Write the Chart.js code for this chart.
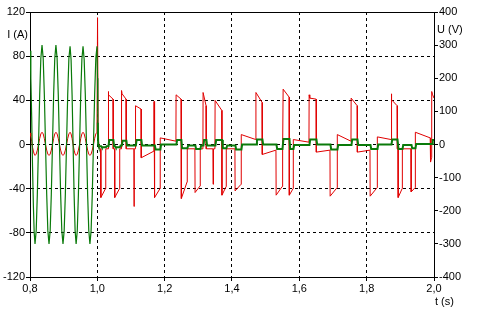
<!DOCTYPE html>
<html>
<head>
<meta charset="utf-8">
<script src="https://cdn.jsdelivr.net/npm/chart.js@4.4.1/dist/chart.umd.min.js"></script>
<style>
  html, body { margin: 0; padding: 0; background: #fff; }
  #wrap { width: 481px; height: 314px; }
</style>
</head>
<body>
<div id="wrap"><canvas id="c" width="481" height="314"></canvas></div>
<script>
/* ── data ──────────────────────────────────────────────────── */
var xTicks  = [0.8, 1.0, 1.2, 1.4, 1.6, 1.8, 2.0];
var xLabels = ['0,8', '1,0', '1,2', '1,4', '1,6', '1,8', '2,0'];
var iTicks  = [-120, -80, -40, 0, 40, 80, 120];
var uTicks  = [-400, -300, -200, -100, 0, 100, 200, 300, 400];

// current I (A), green, left axis
var iT = [0.800, 0.8025, 0.805, 0.8075, 0.810, 0.8125, 0.8149, 0.8184, 0.8218, 0.8253, 0.8288, 0.8322,
  0.8357, 0.8392, 0.8426, 0.8461, 0.8496, 0.8530, 0.8565, 0.8599, 0.8633, 0.8668, 0.8702, 0.8736,
  0.877, 0.8805, 0.884, 0.8875, 0.891, 0.8945, 0.898, 0.9015, 0.905, 0.9085, 0.912, 0.9155,
  0.919, 0.922, 0.925, 0.928, 0.931, 0.934, 0.937, 0.9404, 0.9438, 0.9473, 0.9507, 0.9541,
  0.9575, 0.9609, 0.9643, 0.9678, 0.9712, 0.9746, 0.978, 0.9815, 0.985, 0.9885, 0.992, 0.9955,
  0.999, 1.0005, 1.0015, 1.0025,
  1.004, 1.0115, 1.0135, 1.0255, 1.0275, 1.0333, 1.0353, 1.0477, 1.0497, 1.0527, 1.0547, 1.0670,
  1.0690, 1.0729, 1.0749, 1.0863, 1.0883, 1.1145, 1.1165, 1.1309, 1.1329, 1.1710, 1.1730, 1.1873,
  1.1893, 1.2349, 1.2369, 1.2497, 1.2517, 1.2676, 1.2696, 1.2913, 1.2933, 1.3062, 1.3082, 1.3151,
  1.3171, 1.3240, 1.3260, 1.3508, 1.3528, 1.3707, 1.3727, 1.3835, 1.3855, 1.4102, 1.4122, 1.4280,
  1.4300, 1.4721, 1.4741, 1.4904, 1.4924, 1.5321, 1.5341, 1.5499, 1.5529, 1.5707, 1.5727, 1.5826,
  1.5846, 1.6301, 1.6321, 1.6509, 1.6529, 1.6925, 1.6945, 1.7133, 1.7153, 1.7549, 1.7569, 1.7728,
  1.7748, 1.8114, 1.8134, 1.8322, 1.8342, 1.8738, 1.8758, 1.8916, 1.8946, 1.9065, 1.9085, 1.9332,
  1.9352, 1.9451, 1.9471, 1.9942, 1.9962, 2.0];
var iA = [85, 60, 25, -20, -55, -80, -90, -78, -45, 0, 45, 78,
  90, 78, 45, 0, -45, -78, -90, -78, -45, 0, 45, 78,
  90, 78, 45, 0, -45, -78, -90, -78, -45, 0, 45, 78,
  89, 77, 45, 0, -45, -78, -90, -78, -45, 0, 45, 77,
  89, 77, 45, 0, -45, -78, -90, -78, -45, 0, 45, 78,
  89, 60, 20, 0,
  -1.5, -1.5, -2.5, -2.5, -1.5, -1.5, 4, 4, -1.5, -1.5, -2.5, -2.5,
  -1, -1, 3.5, 3.5, -1, -1, 4, 4, -1, -1, -4.5, -4.5,
  0, 0, 4, 4, -3.5, -3.5, -1, -1, -4, -4, -1, -1,
  4, 4, -1, -1, 4, 4, -3.5, -3.5, -1, -1, -4.5, -4.5,
  0, 0, 4.5, 4.5, 0, 0, -4, -4, 5, 5, -4, -4,
  -0.5, -0.5, 4.5, 4.5, 0, 0, -4.5, -4.5, -0.5, -0.5, 4.5, 4.5,
  -0.5, -0.5, -4, -4, 0, 0, 4.5, 4.5, -4, -4, -0.5, -0.5,
  -3.5, -3.5, 0.5, 0.5, 4, 4];

// voltage U (V), red, right axis
var uT = [0.800, 0.8025, 0.805, 0.8075, 0.810, 0.8125, 0.8149, 0.8184, 0.8218, 0.8253, 0.8288, 0.8322,
  0.8357, 0.8392, 0.8426, 0.8461, 0.8496, 0.8530, 0.8565, 0.8599, 0.8633, 0.8668, 0.8702, 0.8736,
  0.877, 0.8805, 0.884, 0.8875, 0.891, 0.8945, 0.898, 0.9015, 0.905, 0.9085, 0.912, 0.9155,
  0.919, 0.922, 0.925, 0.928, 0.931, 0.934, 0.937, 0.9404, 0.9438, 0.9473, 0.9507, 0.9541,
  0.9575, 0.9609, 0.9643, 0.9678, 0.9712, 0.9746, 0.978, 0.9815, 0.985, 0.9885, 0.992, 0.9955,
  0.999, 1.0006, 1.0025, 1.006, 1.010, 1.0105, 1.0244, 1.0250, 1.0318, 1.0323, 1.0340, 1.0467,
  1.0472, 1.0512, 1.0517, 1.0660, 1.0665, 1.0714, 1.0719, 1.0735, 1.0853, 1.0858, 1.1086, 1.1091,
  1.1096, 1.1130, 1.1135, 1.1299, 1.1304, 1.1680, 1.1685, 1.1700, 1.1863, 1.1868, 1.2334, 1.2339,
  1.2487, 1.2495, 1.2666, 1.2671, 1.2898, 1.2903, 1.3052, 1.3057, 1.3136, 1.3141, 1.3230, 1.3235,
  1.3433, 1.3438, 1.3450, 1.3493, 1.3498, 1.3697, 1.3702, 1.3825, 1.3830, 1.4087, 1.4092, 1.4270,
  1.4275, 1.4706, 1.4711, 1.4894, 1.4899, 1.5306, 1.5311, 1.5489, 1.5494, 1.5514, 1.5519, 1.5697,
  1.5702, 1.5816, 1.5821, 1.6286, 1.6291, 1.6310, 1.6499, 1.6504, 1.6910, 1.6915, 1.7123, 1.7128,
  1.7534, 1.7539, 1.7718, 1.7723, 1.8099, 1.8104, 1.8312, 1.8317, 1.8723, 1.8728, 1.8750, 1.8906,
  1.8911, 1.8931, 1.8936, 1.9055, 1.9060, 1.9317, 1.9322, 1.9441, 1.9446, 1.9887, 1.9897, 1.9927,
  1.9932, 1.9960, 2.0];
var uV = [35, 25, 10, -8, -20, -29, -33, -29, -17, 0, 18, 32,
  37, 32, 18, 0, -17, -29, -33, -29, -17, 0, 18, 32,
  37, 32, 18, 0, -17, -29, -33, -29, -17, 0, 18, 32,
  37, 32, 18, 0, -17, -29, -33, -29, -17, 0, 18, 32,
  37, 32, 18, 0, -17, -29, -33, -29, -17, 0, 18, 32,
  37, 383, 20, -13, -13, -160, -133, -13, -13, 160, 150, 137,
  -13, -13, -160, -133, -13, -13, 163, 153, 137, -13, -13, -187,
  -13, -13, 117, 107, -40, -20, 130, -160, -133, 20, 10, 150,
  137, -163, -113, -13, -13, -145, -125, -13, -13, 157, 117, -13,
  -13, -120, -13, -13, 133, 103, -153, -127, -13, -13, -140, -120,
  30, 15, 157, 127, -30, -17, -153, -127, -13, -13, 167, 143,
  -153, -133, 15, 7, 150, 140, 137, -23, -17, -156, -130, 30,
  10, 140, 117, -23, -17, -156, -130, 23, 15, 153, 135, 117,
  -13, -13, -160, -133, -13, -13, -143, -130, 37, 20, -53, -40,
  160, 150, 140];

/* ── helpers ────────────────────────────────────────────────── */
var FONT = { family: "'Liberation Sans', Arial, sans-serif", size: 11 };

function pairs(xs, ys) {
  return xs.map(function(x, k) { return { x: x, y: ys[k] }; });
}

function edgeClear(min, max) {
  return function(c) {
    if (!c.tick) return '#000';
    var v = c.tick.value;
    return (Math.abs(v - min) < 1e-9 || Math.abs(v - max) < 1e-9) ? 'rgba(0,0,0,0)' : '#000';
  };
}

var axisTitles = {
  id: 'axisTitles',
  afterDraw: function(chart) {
    var ctx = chart.ctx, a = chart.chartArea;
    ctx.save();
    // top frame line
    ctx.strokeStyle = '#000';
    ctx.lineWidth = 1;
    ctx.beginPath();
    ctx.moveTo(a.left, Math.round(a.top) + 0.5);
    ctx.lineTo(a.right, Math.round(a.top) + 0.5);
    ctx.stroke();

    ctx.fillStyle = '#000';
    ctx.font = FONT.size + 'px ' + FONT.family;
    ctx.textBaseline = 'middle';
    ctx.textAlign = 'right';
    ctx.fillText('I (A)', 28, 35);
    ctx.textAlign = 'left';
    ctx.fillText('U (V)', 437, 30);
    ctx.fillText('t (s)', 435, 302);
    ctx.restore();
  }
};

/* ── chart ──────────────────────────────────────────────────── */
new Chart(document.getElementById('c'), {
  type: 'line',
  data: {
    datasets: [
      {
        label: 'I', data: pairs(iT, iA), yAxisID: 'yI', order: 0,
        borderColor: '#0a7a0a', borderWidth: 1.2,
        segment: { borderWidth: function(c) { return c.p0.parsed.x >= 1.001 ? 2 : 1.2; } }
      },
      {
        label: 'U', data: pairs(uT, uV), yAxisID: 'yU', order: 1,
        borderColor: '#e00000', borderWidth: 1
      }
    ]
  },
  options: {
    responsive: false,
    animation: false,
    devicePixelRatio: 1,
    parsing: true,
    elements: { point: { radius: 0 }, line: { tension: 0 } },
    layout: { padding: { top: 12, left: 0, right: 0, bottom: 0 } },
    plugins: { legend: { display: false }, tooltip: { enabled: false } },
    scales: {
      x: {
        type: 'linear', min: 0.8, max: 2.0,
        afterBuildTicks: function(s) { s.ticks = xTicks.map(function(v) { return { value: v }; }); },
        afterFit: function(s) { s.height = 37; },
        ticks: {
          color: '#000', font: FONT, padding: 1, maxRotation: 0, autoSkip: false,
          callback: function(v) { return xLabels[xTicks.indexOf(Math.round(v * 10) / 10)]; }
        },
        grid: { color: edgeClear(0.8, 2.0), tickColor: '#000', tickLength: 4, lineWidth: 1 },
        border: { color: '#000', width: 1, dash: [3, 3] }
      },
      yI: {
        type: 'linear', position: 'left', min: -120, max: 120,
        afterBuildTicks: function(s) { s.ticks = iTicks.map(function(v) { return { value: v }; }); },
        afterFit: function(s) { s.width = 30; },
        ticks: { color: '#000', font: FONT, padding: 1, autoSkip: false },
        grid: { color: edgeClear(-120, 120), tickColor: '#000', tickLength: 4, lineWidth: 1 },
        border: { color: '#000', width: 1, dash: [3, 3] }
      },
      yU: {
        type: 'linear', position: 'right', min: -400, max: 400,
        afterBuildTicks: function(s) { s.ticks = uTicks.map(function(v) { return { value: v }; }); },
        afterFit: function(s) { s.width = 47; },
        ticks: { color: '#000', font: FONT, padding: 1, autoSkip: false },
        grid: { drawOnChartArea: false, color: '#000', tickColor: '#000', tickLength: 4 },
        border: { color: '#000', width: 1 }
      }
    }
  },
  plugins: [axisTitles]
});
</script>
</body>
</html>
